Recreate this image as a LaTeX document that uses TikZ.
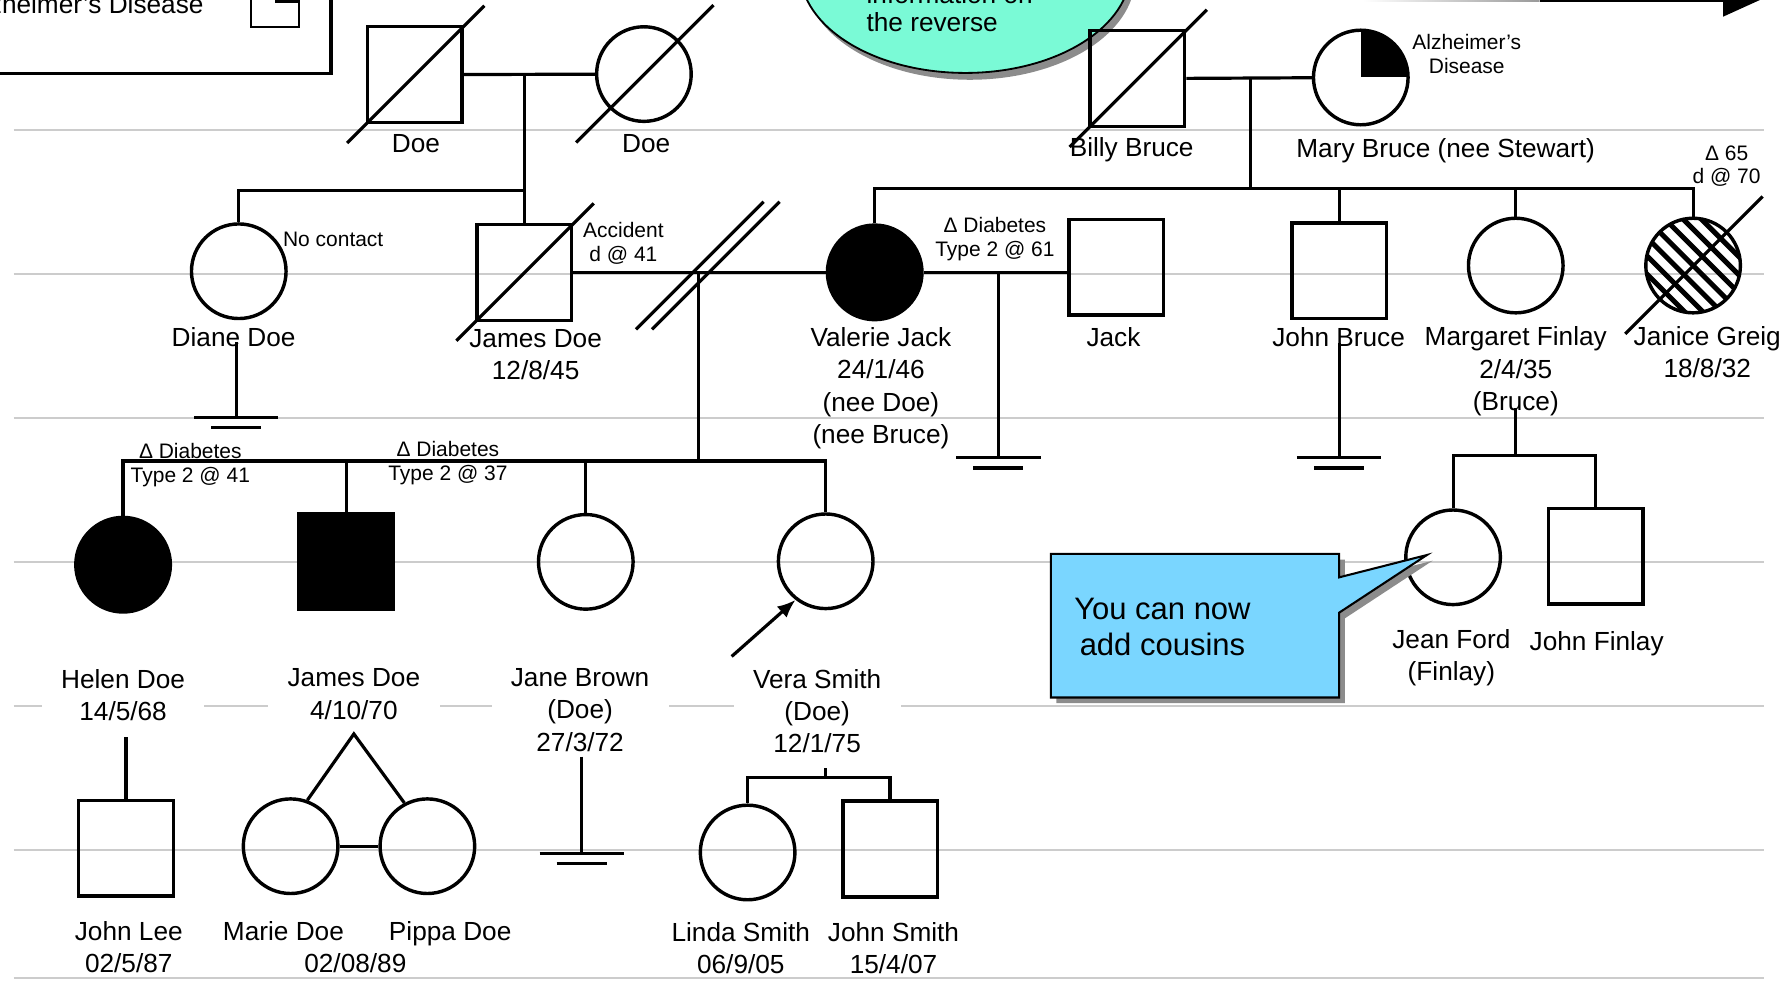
\documentclass[tikz,border=0pt]{standalone}
\usepackage{fontspec}
\setmainfont{Liberation Sans}
\usetikzlibrary{arrows.meta}
\definecolor{ovalgreen}{RGB}{122,250,214}
\definecolor{tipblue}{RGB}{122,214,255}
\newcommand{\namefont}{\fontsize{11.5pt}{14.15pt}\selectfont}
\newcommand{\remfont}{\fontsize{9.2pt}{10.4pt}\selectfont}
\newcommand{\tipfont}{\fontsize{13.6pt}{15.8pt}\selectfont}

\begin{document}
\begin{tikzpicture}[x=0.5pt, y=-0.5pt,
    male/.style={draw, line width=1.5pt, minimum width=41.5pt, minimum height=42pt, inner sep=0pt},
    female/.style={draw, circle, line width=1.5pt, minimum size=41.5pt, inner sep=0pt},
    affected/.style={fill=black},
    link/.style={line width=1.4pt},
    ruling/.style={gray!40, line width=1pt},
    lbl/.style={font=\namefont, align=center, inner sep=0pt},
    rem/.style={font=\remfont, align=center, inner sep=0pt},
    kidlbl/.style={lbl, fill=white, inner xsep=8.5pt, inner ysep=2pt},
    nokids/.pic={\draw[link] (-37,0) -- (37,0); \draw[link] (-22,9) -- (22,9);}]
    \clip (0,0) rectangle (1568,866);

    % ruled background
    \foreach \y in {114,240.4,366.8,493,619.3,745.8,858.4}
      \draw[ruling] (12,\y) -- (1548,\y);

    % legend box
    \draw[line width=1.4pt] (-10,-10) rectangle (290.5,64.4);
    \node[lbl, anchor=base east] (legendLbl) at (179,11.7) {Alzheimer’s Disease};
    \draw[line width=0.9pt] (220,-19) rectangle (262,23.4);
    \fill (241,-19) rectangle (262,2.2);

    % note oval
    \fill[black!45] (851,-20) ellipse [x radius=145, y radius=90];
    \filldraw[fill=ovalgreen, line width=0.8pt] (847,-26) ellipse [x radius=145, y radius=90];
    \node[lbl, anchor=base west] (ovalA) at (760,3) {information on};
    \node[lbl, anchor=base west] (ovalB) at (760,27.8) {the reverse};

    % arrow off the top
    \shade[left color=white, right color=gray!80] (1196,-9.5) rectangle (1351,1.5);
    \fill (1351,-9.5) rectangle (1512,1.5);
    \fill (1512,-22.6) -- (1553,-4) -- (1512,14.6) -- cycle;

    % generation I
    \node[male] (doeM) at (364,65.5) {};
    \node[female] (doeF) at (565,65) {};
    \node[male] (billy) at (998,69) {};
    \node[female] (mary) at (1194,68) {};
    \begin{scope}
      \clip (mary) circle [radius=41.5];
      \fill (mary.center) rectangle ++(50,-50);
    \end{scope}

    % generation II
    \node[female] (diane) at (209.5,238) {};
    \node[male] (jamesSr) at (460,239) {};
    \node[female, affected] (valerie) at (767.5,239) {};
    \node[male] (jack) at (979.5,234.5) {};
    \node[male] (johnB) at (1175,237.5) {};
    \node[female] (margaret) at (1330,233) {};
    \node[female] (janice) at (1485.6,233) {};
    \begin{scope}
      \clip (janice) circle [radius=41];
      \foreach \k in {-5,...,5}
        \draw[line width=2.2pt] ([xshift=\k*8pt]janice.center) ++(-60,-60) -- ++(120,120);
    \end{scope}

    % generation III
    \node[female, affected] (helen) at (108,495.5) {};
    \node[male, affected] (jamesJr) at (304,493) {};
    \node[female] (jane) at (514,493) {};
    \node[female] (vera) at (724.5,492.5) {};
    \node[female] (jean) at (1275,489) {};
    \node[male] (johnF) at (1400,488) {};

    % generation IV
    \node[male] (johnL) at (110.5,744.3) {};
    \node[female] (marie) at (255,742.5) {};
    \node[female] (pippa) at (375,742.5) {};
    \node[female] (linda) at (656,748) {};
    \node[male] (johnS) at (781,745) {};

    % deceased
    \foreach \p in {doeM,doeF,billy,jamesSr,janice}
      \draw[link] ([shift={(-59.5,60)}]\p.center) -- ([shift={(61,-60.5)}]\p.center);

    % names (base = last line)
    \node[lbl, anchor=base] (doeMLbl) at (365,134) {Doe};
    \node[lbl, anchor=base] (doeFLbl) at (567,134) {Doe};
    \node[lbl, anchor=base] (billyLbl) at (993,137.5) {Billy Bruce};
    \node[lbl, anchor=base] (maryLbl) at (1268.5,138.5) {Mary Bruce (nee Stewart)};
    \node[lbl, anchor=base] (dianeLbl) at (205,303.6) {Diane Doe};
    \node[lbl, anchor=base] (jamesSrLbl) at (470,333) {James Doe\\12/8/45};
    \node[lbl, anchor=base] (valerieLbl) at (773,389) {Valerie Jack\\24/1/46\\(nee Doe)\\(nee Bruce)};
    \node[lbl, anchor=base] (jackLbl) at (977,304.2) {Jack};
    \node[lbl, anchor=base] (johnBLbl) at (1174.6,304) {John Bruce};
    \node[lbl, anchor=base] (margaretLbl) at (1330,360) {Margaret Finlay\\2/4/35\\(Bruce)};
    \node[lbl, anchor=base] (janiceLbl) at (1498,331.5) {Janice Greig\\18/8/32};
    \node[kidlbl, anchor=base] (helenLbl) at (108,632.6) {Helen Doe\\14/5/68};
    \node[kidlbl, anchor=base] (jamesJrLbl) at (310.5,631) {James Doe\\4/10/70};
    \node[kidlbl, anchor=base] (janeLbl) at (509,659) {Jane Brown\\(Doe)\\27/3/72};
    \node[kidlbl, anchor=base] (veraLbl) at (717,660.4) {Vera Smith\\(Doe)\\12/1/75};
    \node[lbl, anchor=base] (jeanLbl) at (1273.5,597) {Jean Ford\\(Finlay)};
    \node[lbl, anchor=base] (johnFLbl) at (1401,571) {John Finlay};
    \node[lbl, anchor=base] (johnLLbl) at (113,853.4) {John Lee\\02/5/87};
    \node[lbl, anchor=base] (marieLbl) at (248.7,825) {Marie Doe};
    \node[lbl, anchor=base] (pippaLbl) at (395,825) {Pippa Doe};
    \node[lbl, anchor=base] (twinsLbl) at (311.8,853.4) {02/08/89};
    \node[lbl, anchor=base] (lindaLbl) at (650,854) {Linda Smith\\06/9/05};
    \node[lbl, anchor=base] (johnSLbl) at (784,854) {John Smith\\15/4/07};

    % remarks
    \node[rem, anchor=base] (maryRem) at (1287,64.3) {Alzheimer’s\\Disease};
    \node[rem, anchor=base west] (dianeRem) at (248,216.7) {No contact};
    \node[rem, anchor=base] (jamesSrRem) at (547,229.6) {Accident\\d @ 41};
    \node[rem, anchor=base] (valerieRem) at (873,225.2) {Δ Diabetes\\Type 2 @ 61};
    \node[rem, anchor=base] (janiceRem) at (1515,161.4) {Δ 65\\d @ 70};
    \node[rem, anchor=base] (helenRem) at (167,423.3) {Δ Diabetes\\Type 2 @ 41};
    \node[rem, anchor=base] (jamesJrRem) at (393,421.5) {Δ Diabetes\\Type 2 @ 37};

    % couples and sibships
    \coordinate (m1) at (460,65);
    \coordinate (s1) at (460,167.3);
    \draw[link] (doeM) -- (doeF);
    \draw[link] (m1) -- (jamesSr.north);
    \draw[link] (s1) -| (diane.north);

    \coordinate (m2) at (1097,68.5);
    \coordinate (s2) at (1097,165.3);
    \draw[link] (billy) -- (mary);
    \draw[link] (m2) -- (s2);
    \draw[link] (valerie.north) |- (s2) -| (janice.north);
    \draw[link] (johnB.north) -- (johnB.north |- s2);
    \draw[link] (margaret.north) -- (margaret.north |- s2);

    \coordinate (m3) at (613,239);
    \coordinate (s3) at (613,404.5);
    \draw[link] (jamesSr) -- (valerie);
    \draw[link] ([shift={(-55,50)}]m3) -- ++(112,-112);
    \draw[link] ([shift={(-41,50)}]m3) -- ++(112,-112);
    \draw[link] (m3) -- (s3);
    \draw[link] (helen.north) |- (s3) -| (vera.north);
    \draw[link] (jamesJr.north) -- (jamesJr.north |- s3);
    \draw[link] (jane.north) -- (jane.north |- s3);

    \coordinate (m4) at (876,239);
    \coordinate (nk1) at (876,401.6);
    \draw[link] (valerie.east) -- (valerie.east -| jack.west);
    \draw[link] (m4) -- (nk1);
    \pic at (nk1) {nokids};

    % no children
    \coordinate (dianeD) at (207.3,300);
    \coordinate (nk2) at (207.3,366);
    \draw[link] (dianeD) -- (nk2);
    \pic at (nk2) {nokids};
    \coordinate (johnBD) at (1175,301);
    \coordinate (nk3) at (1175,401.6);
    \draw[link] (johnBD) -- (nk3);
    \pic at (nk3) {nokids};
    \coordinate (janeD) at (510.4,664);
    \coordinate (nk4) at (510.4,748.7);
    \draw[link] (janeD) -- (nk4);
    \pic at (nk4) {nokids};

    % next generation
    \coordinate (margD) at (1330,358);
    \coordinate (s4) at (1330,400);
    \draw[link] (margD) -- (s4);
    \draw[link] (jean.north) |- (s4) -| (johnF.north);

    \coordinate (helenD) at (110.5,647);
    \draw[link] (helenD) -- (johnL.north);

    \coordinate (twinA) at (310.5,644);
    \draw[link] (marie.70) -- (twinA) -- (pippa.118);
    \draw[link] (marie) -- (pippa);

    \coordinate (veraD) at (724,674);
    \coordinate (s5) at (724,682);
    \draw[link] (veraD) -- (s5);
    \draw[link] (linda.north) |- (s5) -| (johnS.north);

    % proband
    \coordinate (probA) at (642,576);
    \draw[link, -{Latex[length=8pt, width=6.5pt]}] (probA) -- (vera.232);

    % callout
    \fill[black!45, shift={(5,5)}] (922,486) -- (1175,486) -- (1175,506.6) -- (1252,487) -- (1175,537.6) -- (1175,612) -- (922,612) -- cycle;
    \filldraw[fill=tipblue, line width=0.9pt] (922,486) -- (1175,486) -- (1175,506.6) -- (1252,487) -- (1175,537.6) -- (1175,612) -- (922,612) -- cycle;
    \node[font=\tipfont, align=center, inner sep=0pt, anchor=base] (tipText) at (1020,575.6) {You can now\\ add cousins};
\end{tikzpicture}
\end{document}
